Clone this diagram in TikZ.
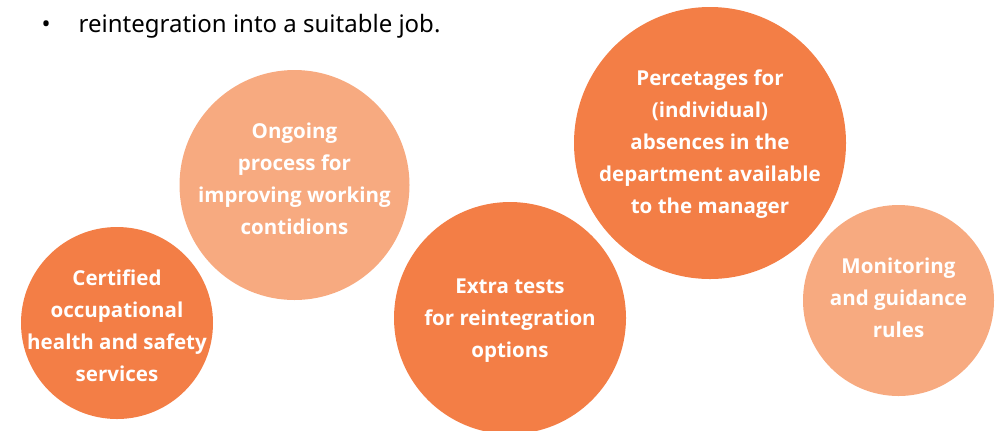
\documentclass[tikz,border=0pt]{standalone}
\usepackage{fontspec}
\setmainfont{Noto Sans}
\newfontfamily\circlefont{Open Sans}
\definecolor{darkorange}{RGB}{243,126,70}
\definecolor{lightorange}{RGB}{247,170,128}
\begin{document}
\begin{tikzpicture}[x=0.75pt,y=-0.75pt,
    dark/.style={fill=darkorange},
    light/.style={fill=lightorange},
    txt/.style={text=white,align=center,font=\circlefont\bfseries\fontsize{15.4}{24}\selectfont},
    bullet/.style={anchor=base west,font=\fontsize{18}{20}\selectfont}]
        \useasboundingbox (0,0) rectangle (1002,430);
        \clip (0,0) rectangle (1002,430);
        % bullet line
        \node[bullet] (dot) at (37,32) {•};
        \node[bullet] (job) at (74,32) {reintegration into a suitable job.};
        %
        \fill[dark] (117,323) circle[radius=96];
        \node[txt] (cert) at (117,326) {Certified\\occupational\\health and safety\\services};
        %
        \fill[light] (294.5,185) circle[radius=115];
        \node[txt] (ongoing) at (294.5,179) {Ongoing\\process for\\improving working\\contidions};
        %
        \fill[dark] (510,318) circle[radius=116];
        \node[txt] (tests) at (510,321) {Extra tests\\for reintegration\\options};
        %
        \fill[dark] (710,143) circle[radius=136];
        \node[txt] (perc) at (710,144) {Percetages for\\(individual)\\absences in the\\department available\\to the manager};
        %
        \fill[light] (898.5,300.5) circle[radius=95.5];
        \node[txt] (monit) at (898.5,298) {Monitoring\\and guidance\\rules};
\end{tikzpicture}
\end{document}
